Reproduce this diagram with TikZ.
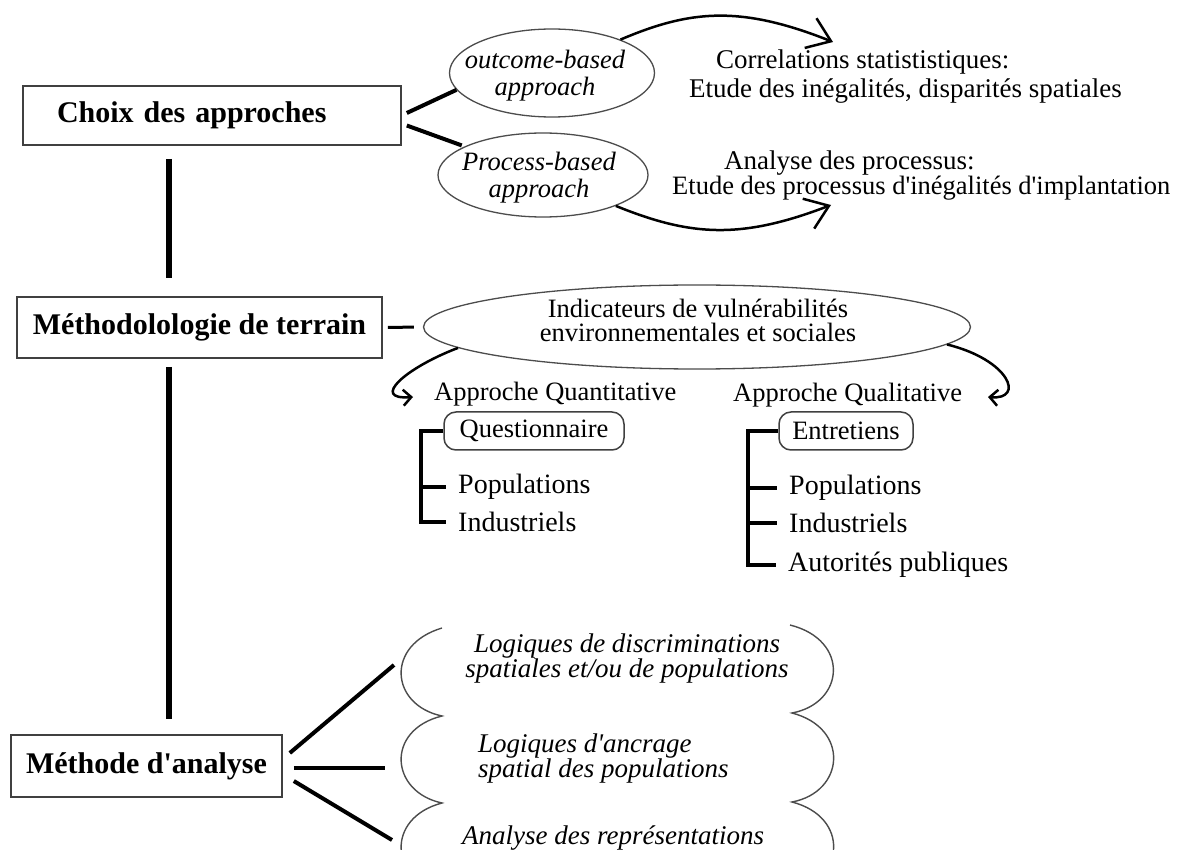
\documentclass[tikz,border=0pt]{standalone}
\usepackage{fontspec}
\setmainfont{Liberation Serif}
\usetikzlibrary{arrows.meta,calc,shapes.geometric}
\begin{document}
\begin{tikzpicture}[x=1pt,y=-1pt,
  titlebox/.style={draw=black!75, line width=1.6pt, rectangle, inner sep=0pt, font=\fontsize{30}{32}\selectfont\bfseries},
  oval/.style={draw=black!70, line width=1.3pt, ellipse, inner sep=0pt},
  ovaltext/.style={inner sep=0pt, align=center},
  rtext/.style={inner sep=0pt, font=\fontsize{27}{29}\selectfont},
  mtext/.style={inner sep=0pt, font=\fontsize{26.5}{28}\selectfont},
  listitem/.style={anchor=west, inner xsep=12pt, inner ysep=0pt, font=\fontsize{28}{30}\selectfont},
  tagbox/.style={draw=black!75, line width=1.5pt, rounded corners=12pt, minimum height=38pt, inner sep=0pt, font=\fontsize{26.5}{28}\selectfont},
  itext/.style={inner sep=0pt, font=\fontsize{27}{23}\selectfont\itshape},
  vline/.style={line width=6pt},
  link/.style={line width=4pt},
  brk/.style={line width=3.5pt},
  curvearrow/.style={line width=2.5pt, -{Straight Barb[length=22pt,width=32pt,line width=2.5pt]}},
  hookarrow/.style={line width=2.5pt, -{Straight Barb[length=8pt,width=16pt,line width=2.5pt]}},
  scallop/.style={draw=black!70, line width=1.4pt},
]
\clip (0,0) rectangle (1179,850);
\fill[white] (0,0) rectangle (1179,850);

% main boxes
\node[titlebox, minimum width=378pt, minimum height=59pt, text width=310pt, align=left] (choix) at (212,115.5) {Choix des approches};
\node[titlebox, minimum width=365pt, minimum height=61pt] (meth) at (199.5,327.5) {Méthodolologie de terrain};
\node[titlebox, minimum width=271pt, minimum height=62pt] (methan) at (146.5,766) {Méthode d\textquotesingle analyse};

\coordinate (spine) at (169,0);
\draw[vline, shorten <=13pt, shorten >=18pt] (choix.south -| spine) -- (meth.north -| spine);
\draw[vline, shorten <=8pt, shorten >=15pt] (meth.south -| spine) -- (methan.north -| spine);

% approaches
\node[oval, minimum width=205pt, minimum height=88pt] (outcome) at (552,73) {};
\node[ovaltext, font=\fontsize{26.5}{27}\selectfont\itshape] (outcomeT) at (545,76) {outcome-based\\approach};
\node[oval, minimum width=210pt, minimum height=84pt] (process) at (543,175) {};
\node[ovaltext, font=\fontsize{26.5}{27}\selectfont\itshape] (processT) at (539,178) {Process-based\\approach};

\draw[link] ([shift={(5pt,2.5pt)}]choix.east) -- (outcome.190);
\draw[link, shorten >=3pt] ([shift={(5pt,-10pt)}]choix.east) -- (process.160);

\node[rtext, anchor=west] (corr1) at (716,62) {Correlations statististiques:};
\node[rtext, anchor=west] (corr2) at (689,91) {Etude des inégalités, disparités spatiales};
\node[rtext, anchor=west] (ana1) at (724,163) {Analyse des processus:};
\node[rtext, anchor=west, font=\fontsize{26.5}{28}\selectfont] (ana2) at (672,188) {Etude des processus d\textquotesingle inégalités d\textquotesingle implantation};

\coordinate (tipA) at (833,42);
\coordinate (tipB) at (831,205);
\draw[curvearrow] (outcome.26) .. controls (690,10) and (740,5) .. (tipA);
\draw[curvearrow] (process.337) .. controls (690,236) and (740,240) .. (tipB);

% field methodology
\node[oval, minimum width=547pt, minimum height=84pt] (ind) at (697,327) {};
\node[ovaltext, font=\fontsize{26.5}{24}\selectfont] (indT) at (698,320) {Indicateurs de vulnérabilités\\environnementales et sociales};
\draw[line width=3pt, shorten <=5pt, shorten >=9pt] (meth.east) -- (ind.west);

\coordinate (tipQ) at (413,397);
\coordinate (tipL) at (988,397);
\draw[hookarrow] (ind.185) .. controls (405,368) and (370,400) .. (tipQ);
\draw[hookarrow] (ind.356) .. controls (1010,360) and (1025,400) .. (tipL);

\node[mtext, anchor=west] (aqt) at (434,394) {Approche Quantitative};
\node[mtext, anchor=west] (aql) at (733,395) {Approche Qualitative};
\node[tagbox, minimum width=180pt] (quest) at (534,431) {Questionnaire};
\node[tagbox, minimum width=134pt] (entr) at (846,431) {Entretiens};
\node[listitem] (popQ) at (446,487) {Populations};
\node[listitem] (indQ) at (446,522) {Industriels};
\node[listitem] (popL) at (777,488) {Populations};
\node[listitem] (indL) at (777,523) {Industriels};
\node[listitem] (autL) at (776,565) {Autorités publiques};

\coordinate (qv) at (421,0);
\coordinate (lv) at (748,0);
\draw[brk] (quest.west) -- (quest.west -| qv) -- (indQ.west -| qv) -- (indQ.west);
\draw[brk] (popQ.west -| qv) -- (popQ.west);
\draw[brk] (entr.west) -- (entr.west -| lv) -- (autL.west -| lv) -- (autL.west);
\draw[brk] (popL.west -| lv) -- (popL.west);
\draw[brk] (indL.west -| lv) -- (indL.west);

% analysis
\draw[scallop] (442,628) .. controls (385,645) and (390,705) .. (442,716) .. controls (385,730) and (390,792) .. (442,803) .. controls (385,818) and (390,880) .. (442,891);
\draw[scallop] (790,625) .. controls (850,640) and (845,703) .. (792,713) .. controls (850,728) and (845,792) .. (792,802) .. controls (850,817) and (845,880) .. (792,890);

\coordinate (s1) at (394,665);
\coordinate (s2) at (385,768);
\coordinate (s3) at (392,840);
\draw[link] ([shift={(7pt,13pt)}]methan.east) -- (s1);
\draw[link] ([shift={(11pt,-2pt)}]methan.east) -- (s2);
\draw[link] ([shift={(11pt,-15pt)}]methan.east) -- (s3);

\node[itext, align=center] (lg1) at (627,658.5) {Logiques de discriminations\\spatiales et/ou de populations};
\node[itext, align=left, anchor=west] (lg2) at (478,758.5) {Logiques d\textquotesingle ancrage\\spatial des populations};
\node[itext, anchor=west] (lg3) at (462,838) {Analyse des représentations};
\end{tikzpicture}
\end{document}
